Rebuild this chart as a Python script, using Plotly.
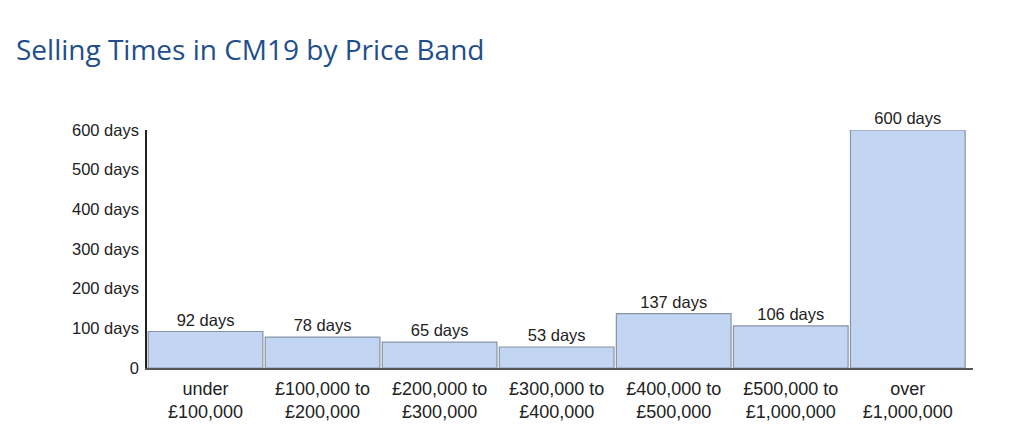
import plotly.graph_objects as go

categories = ["under<br>£100,000", "£100,000 to<br>£200,000", "£200,000 to<br>£300,000",
              "£300,000 to<br>£400,000", "£400,000 to<br>£500,000", "£500,000 to<br>£1,000,000",
              "over<br>£1,000,000"]
days = [92, 78, 65, 53, 137, 106, 600]
bar_labels = [f"{d} days" for d in days]
y_tickvals = [0, 100, 200, 300, 400, 500, 600]
y_ticktext = ["0", "100 days", "200 days", "300 days", "400 days", "500 days", "600 days"]

fig = go.Figure()
fig.add_trace(go.Bar(
    x=list(range(len(categories))),
    y=days,
    text=bar_labels,
    texttemplate="%{text}",
    marker=dict(color="#c2d5f2", line=dict(color="#8794a2", width=1.2)),
    textposition="outside",
    textfont=dict(family="Liberation Sans, Arial, sans-serif", size=16.5, color="#222222"),
    cliponaxis=False,
    hoverinfo="skip",
))

fig.update_layout(
    width=1024, height=447,
    margin=dict(l=139, r=59, t=122, b=87),
    paper_bgcolor="white", plot_bgcolor="white",
    bargap=0.02,
    showlegend=False,
    title=dict(text="Selling Times in CM19 by Price Band",
               font=dict(family="Open Sans, sans-serif", size=28, color="#1f4e8d"),
               x=0.0078, xanchor="left", y=0.906, yanchor="middle"),
    font=dict(family="Liberation Sans, Arial, sans-serif", color="#222222"),
)
fig.update_xaxes(
    range=[-0.5, 6.557],
    tickvals=list(range(len(categories))), ticktext=categories,
    tickfont=dict(size=18, color="#222222"),
    showline=True, linecolor="#555555", linewidth=2,
    showgrid=False, zeroline=False, ticks="", ticklabelstandoff=3,
)
fig.update_yaxes(
    range=[0, 600],
    tickvals=y_tickvals, ticktext=y_ticktext,
    tickfont=dict(size=16.5, color="#222222"),
    showline=True, linecolor="#222222", linewidth=1.5,
    showgrid=False, zeroline=False, ticks="", ticklabelstandoff=3,
)

fig.write_html("out.html")
